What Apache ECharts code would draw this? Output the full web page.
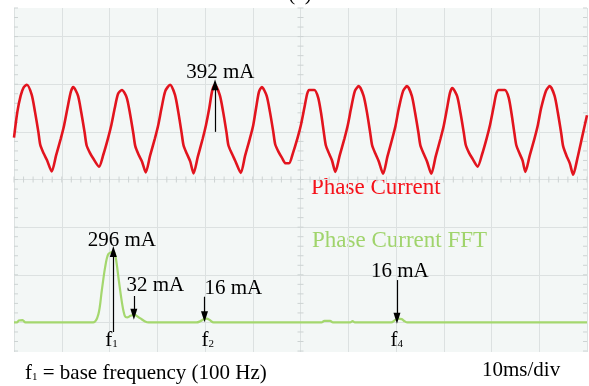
<!DOCTYPE html>
<html>
<head>
<meta charset="utf-8">
<script src="https://cdn.jsdelivr.net/npm/echarts@6/dist/echarts.min.js"></script>
<style>
html,body{margin:0;padding:0;background:#fff;}
#c{width:589px;height:386px;}
</style>
</head>
<body>
<div id="c"></div>
<script>
// Phase current trace: [time ms, divisions]
const phaseCurrent = [
[0,0.88],[0.7,1.42],[1.4,1.76],[2.0,1.93],[2.7,1.99],
[3.7,1.78],[4.4,1.42],[5.1,1.0],[5.5,0.73],[6.2,0.55],[6.9,0.41],[7.9,0.17],
[8.8,0.5],[9.8,0.86],[10.5,1.14],[11.2,1.5],[11.9,1.84],[12.4,1.94],
[13.4,1.76],[14.1,1.4],[14.8,0.98],[15.2,0.72],[15.9,0.56],[16.6,0.44],[17.8,0.27],
[18.7,0.52],[19.7,0.87],[20.4,1.15],[21.1,1.5],[21.8,1.8],[22.6,1.88],
[23.6,1.72],[24.3,1.38],[25.0,0.96],[25.4,0.7],[26.1,0.52],[26.8,0.38],[27.6,0.15],
[28.5,0.5],[29.5,0.86],[30.2,1.14],[30.9,1.5],[31.7,1.86],[32.7,1.99],
[33.7,1.78],[34.4,1.42],[35.1,0.98],[35.5,0.72],[36.2,0.54],[36.9,0.38],[37.6,0.13],
[38.5,0.48],[39.5,0.85],[40.2,1.14],[40.9,1.5],[41.5,1.86],[42.1,1.99],
[43.1,1.77],[43.8,1.42],[44.5,0.99],[44.9,0.72],[45.6,0.55],[46.3,0.4],[47.5,0.14],
[48.4,0.5],[49.4,0.86],[50.1,1.14],[50.7,1.5],[51.3,1.84],[51.9,1.94],
[52.9,1.76],[53.6,1.42],[54.3,1.0],[54.7,0.74],[55.4,0.58],[56.1,0.46],[56.9,0.34],[57.6,0.34],
[58.4,0.55],[59.4,0.88],[60.1,1.15],[60.8,1.5],[61.4,1.8],[61.8,1.88],[62.9,1.88],
[63.7,1.72],[64.3,1.4],[64.9,0.98],[65.3,0.72],[66.0,0.54],[66.6,0.4],[67.3,0.16],
[68.2,0.5],[69.2,0.86],[69.9,1.14],[70.6,1.5],[71.4,1.86],[72.2,1.96],
[73.2,1.76],[73.9,1.42],[74.6,0.98],[75.0,0.72],[75.7,0.54],[76.4,0.38],[77.3,0.12],
[78.2,0.48],[79.2,0.85],[79.9,1.13],[80.6,1.5],[81.5,1.86],[82.3,1.96],
[83.3,1.76],[84.0,1.4],[84.7,0.98],[85.1,0.72],[85.8,0.54],[86.5,0.38],[87.4,0.12],
[88.3,0.48],[89.3,0.85],[90.0,1.13],[90.7,1.5],[91.3,1.82],[91.8,1.92],
[92.8,1.75],[93.5,1.4],[94.2,0.98],[94.6,0.73],[95.3,0.56],[96.0,0.44],[97.1,0.27],
[98.0,0.52],[99.0,0.87],[99.7,1.15],[100.4,1.5],[101.0,1.8],[101.5,1.88],[102.8,1.88],
[103.6,1.72],[104.2,1.38],[104.8,0.97],[105.2,0.72],[105.9,0.54],[106.5,0.4],[107.1,0.16],
[108.0,0.5],[109.0,0.86],[109.7,1.14],[110.4,1.5],[111.4,1.86],[112.2,1.96],
[113.2,1.76],[113.9,1.4],[114.6,0.97],[115.0,0.7],[115.7,0.5],[116.4,0.34],[117.1,0.1],
[118.0,0.45],[119.0,0.9],[120,1.35]
];

// FFT trace: [frequency Hz, mA]
const fftSpectrum = [
[-3,0],[0,0],[2,8],[6,10],[9,0],
[80,0],[85.4,35],[88.9,133],[92.4,231],[95.8,287],[101,296],[103.5,273],[106.8,175],[110.3,77],[113,28],[115.5,21],[119,28],[123,32],[129,18],[134.3,4],[138,0],
[188,0],[192,5],[196,14],[199,16],[202,10],[206,0],
[319,0],[322,7],[328,7],[331,0],
[349,0],[351.5,6],[354,0],
[392,0],[396,10],[399,16],[403,14],[406,5],[409,0],
[597,0]
];

// Annotations
const peakCurrent = {t: 42.1, v: 1.99, text: '392 mA'};
const fftMarks = [
  {f: 101, v: 296, text: '296 mA', sub: '1'},
  {f: 123, v: 32, text: '32 mA'},
  {f: 196.5, v: 16, text: '16 mA', sub: '2'},
  {f: 398, v: 16, text: '16 mA', sub: '4'}
];

const serif = '"Liberation Serif", "Times New Roman", serif';
const chart = echarts.init(document.getElementById('c'), null, {renderer: 'canvas'});

// decorative minor ticks (scope graticule)
const tickData = [];
for (let i = 0; i <= 60; i++) tickData.push([i * 2, 0, 0]);
for (let i = -18; i <= 18; i++) {
  tickData.push([60, i * 0.2, 1]);
  tickData.push([0, i * 0.2, 2]);
  tickData.push([120, i * 0.2, 3]);
}

const txt = {color: '#000', fontFamily: serif, fontSize: 21};
function subRich(){
  return {
    a: {fontFamily: serif, fontSize: 21, color: '#000', verticalAlign: 'bottom'},
    b: {fontFamily: serif, fontSize: 11, color: '#000', verticalAlign: 'bottom', padding: [0,0,1,0]},
    c: {fontFamily: serif, fontSize: 21, color: '#000', verticalAlign: 'bottom'}
  };
}

const gridColor = '#dce1e1';

const option = {
  animation: false,
  backgroundColor: '#ffffff',
  grid: {left: 14, right: 2, top: 8, bottom: 34, show: true, backgroundColor: '#f3f7f6', borderWidth: 0},
  xAxis: [
    {type: 'value', min: 0, max: 120, interval: 10,
     axisLine: {show: false}, axisTick: {show: false}, axisLabel: {show: false},
     splitLine: {show: true, lineStyle: {color: gridColor, width: 1}}},
    {type: 'value', min: -3, max: 597, show: false}
  ],
  yAxis: [
    {type: 'value', min: -3.62, max: 3.6, show: false, splitLine: {show: false}},
    {type: 'value', min: -124, max: 1320, show: false, splitLine: {show: false}}
  ],
  graphic: [
    {type: 'text', x: 300, y: 4.5, style: {text: '(a)', fontFamily: serif, fontSize: 21, fill: '#000', align: 'center', verticalAlign: 'bottom'}},
    {type: 'text', x: 311, y: 188, style: {text: 'Phase Current', fontFamily: serif, fontSize: 23, fill: '#f5121a', align: 'left', verticalAlign: 'middle'}},
    {type: 'text', x: 312, y: 241, style: {text: 'Phase Current FFT', fontFamily: serif, fontSize: 23, fill: '#a0d46c', align: 'left', verticalAlign: 'middle'}},
    {type: 'text', x: 25, y: 373, style: {text: '{a|f}{b|1}{c| = base frequency (100 Hz)}', rich: subRich(), align: 'left', verticalAlign: 'middle'}},
    {type: 'text', x: 482, y: 370, style: {text: '10ms/div', fontFamily: serif, fontSize: 21, fill: '#000', align: 'left', verticalAlign: 'middle'}}
  ],
  series: [
    {
      type: 'line', z: 0, data: [[0, 0]], showSymbol: false, silent: true,
      lineStyle: {width: 0},
      markLine: {
        z: 0, silent: true, symbol: ['none', 'none'], label: {show: false},
        lineStyle: {color: gridColor, width: 1, type: 'solid'},
        data: [-3, -2, -1, 0, 1, 2, 3].map(v => ({yAxis: v}))
      }
    },
    {
      type: 'custom', z: 1, silent: true, data: tickData,
      renderItem: function(params, api){
        const p = api.coord([api.value(0), api.value(1)]);
        const k = api.value(2);
        let s;
        if (k === 0) s = {x1: p[0], y1: p[1] - 3, x2: p[0], y2: p[1] + 3};
        else if (k === 1) s = {x1: p[0] - 3, y1: p[1], x2: p[0] + 3, y2: p[1]};
        else if (k === 2) s = {x1: p[0], y1: p[1], x2: p[0] + 4, y2: p[1]};
        else s = {x1: p[0] - 4, y1: p[1], x2: p[0], y2: p[1]};
        return {type: 'line', shape: s, style: {stroke: '#cdd3d3', lineWidth: 1}};
      }
    },
    {
      type: 'line', z: 4, xAxisIndex: 1, yAxisIndex: 1, data: fftSpectrum,
      showSymbol: false, smooth: 0.3, silent: true,
      lineStyle: {color: '#a4d76e', width: 2.2},
      markLine: {
        z: 10, silent: true, symbol: ['none', 'triangle'], symbolSize: [7, 11], label: {show: false},
        lineStyle: {color: '#000', width: 1.2, type: 'solid'},
        data: [
          [{coord: [fftMarks[0].f, -40]}, {coord: [fftMarks[0].f, fftMarks[0].v + 2]}],
          [{coord: [fftMarks[1].f - 0.5, 111]}, {coord: [fftMarks[1].f - 0.5, fftMarks[1].v + 2]}],
          [{coord: [fftMarks[2].f, 108]}, {coord: [fftMarks[2].f, fftMarks[2].v + 8]}],
          [{coord: [fftMarks[3].f, 178]}, {coord: [fftMarks[3].f, fftMarks[3].v + 2]}]
        ]
      },
      markPoint: {
        z: 10, silent: true, symbol: 'circle', symbolSize: 1, itemStyle: {color: 'rgba(0,0,0,0)'},
        label: Object.assign({show: true, position: 'inside', formatter: p => p.name}, txt),
        data: [
          {name: fftMarks[0].text, coord: [110, 346]},
          {name: fftMarks[1].text, coord: [145, 155]},
          {name: fftMarks[2].text, coord: [226.6, 141]},
          {name: fftMarks[3].text, coord: [401, 216]},
          {name: 'f1', coord: [99, -74], label: {formatter: '{a|f}{b|' + fftMarks[0].sub + '}', rich: subRich()}},
          {name: 'f2', coord: [200, -74], label: {formatter: '{a|f}{b|' + fftMarks[2].sub + '}', rich: subRich()}},
          {name: 'f4', coord: [397.7, -74], label: {formatter: '{a|f}{b|' + fftMarks[3].sub + '}', rich: subRich()}}
        ]
      }
    },
    {
      type: 'line', z: 5, data: phaseCurrent, showSymbol: false, smooth: 0.25, silent: true,
      lineStyle: {color: '#e2141e', width: 2.6},
      markLine: {
        z: 10, silent: true, symbol: ['none', 'triangle'], symbolSize: [7, 11], label: {show: false},
        lineStyle: {color: '#000', width: 1.2, type: 'solid'},
        data: [[{coord: [peakCurrent.t, 1.0]}, {coord: [peakCurrent.t, peakCurrent.v]}]]
      },
      markPoint: {
        z: 10, silent: true, symbol: 'circle', symbolSize: 1, itemStyle: {color: 'rgba(0,0,0,0)'},
        label: Object.assign({show: true, position: 'inside', formatter: p => p.name}, txt),
        data: [{name: peakCurrent.text, coord: [43.2, 2.256]}]
      }
    }
  ]
};
chart.setOption(option);
</script>
</body>
</html>
